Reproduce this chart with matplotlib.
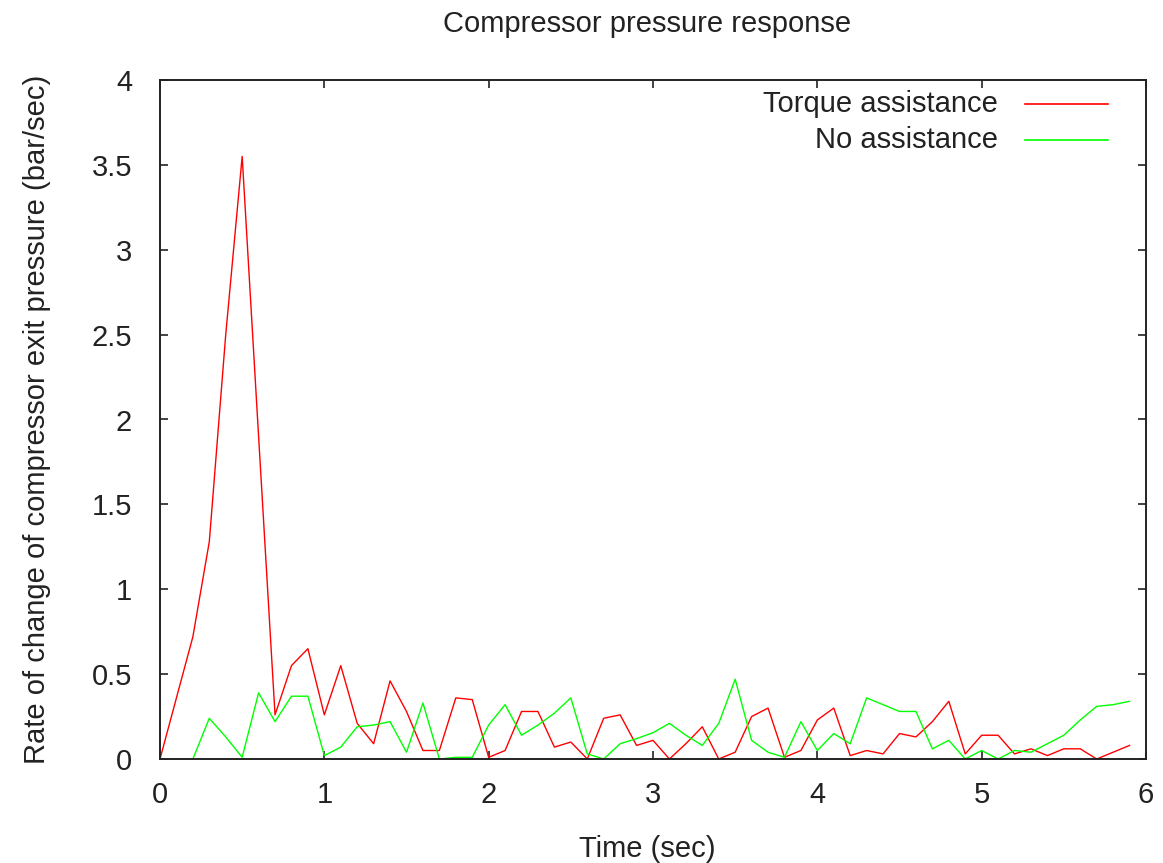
import matplotlib.pyplot as plt
from matplotlib.lines import Line2D

plt.rcParams['font.family'] = ['Liberation Sans', 'DejaVu Sans']

# sample times (sec)
time_torque = [0.0, 0.1, 0.2, 0.3, 0.4, 0.5, 0.6, 0.7, 0.8, 0.9,
               1.0, 1.1, 1.2, 1.3, 1.4, 1.5, 1.6, 1.7, 1.8, 1.9,
               2.0, 2.1, 2.2, 2.3, 2.4, 2.5, 2.6, 2.7, 2.8, 2.9,
               3.0, 3.1, 3.2, 3.3, 3.4, 3.5, 3.6, 3.7, 3.8, 3.9,
               4.0, 4.1, 4.2, 4.3, 4.4, 4.5, 4.6, 4.7, 4.8, 4.9,
               5.0, 5.1, 5.2, 5.3, 5.4, 5.5, 5.6, 5.7, 5.8, 5.9]
rate_torque = [0.0, 0.36, 0.72, 1.28, 2.5, 3.55, 1.9, 0.26, 0.55, 0.65,
               0.26, 0.55, 0.21, 0.09, 0.46, 0.28, 0.05, 0.05, 0.36, 0.35,
               0.01, 0.05, 0.28, 0.28, 0.07, 0.10, 0.0, 0.24, 0.26, 0.08,
               0.11, 0.0, 0.09, 0.19, 0.0, 0.04, 0.25, 0.30, 0.01, 0.05,
               0.23, 0.30, 0.02, 0.05, 0.03, 0.15, 0.13, 0.22, 0.34, 0.03,
               0.14, 0.14, 0.03, 0.06, 0.02, 0.06, 0.06, 0.0, 0.04, 0.08]

time_none = [0.2, 0.3, 0.4, 0.5, 0.6, 0.7, 0.8, 0.9,
             1.0, 1.1, 1.2, 1.3, 1.4, 1.5, 1.6, 1.7, 1.8, 1.9,
             2.0, 2.1, 2.2, 2.3, 2.4, 2.5, 2.6, 2.7, 2.8, 2.9,
             3.0, 3.1, 3.2, 3.3, 3.4, 3.5, 3.6, 3.7, 3.8, 3.9,
             4.0, 4.1, 4.2, 4.3, 4.4, 4.5, 4.6, 4.7, 4.8, 4.9,
             5.0, 5.1, 5.2, 5.3, 5.4, 5.5, 5.6, 5.7, 5.8, 5.9]
rate_none = [0.0, 0.24, 0.13, 0.01, 0.39, 0.22, 0.37, 0.37,
             0.02, 0.07, 0.19, 0.20, 0.22, 0.04, 0.33, 0.0, 0.01, 0.01,
             0.20, 0.32, 0.14, 0.20, 0.27, 0.36, 0.03, 0.0, 0.09, 0.12,
             0.155, 0.21, 0.14, 0.08, 0.21, 0.47, 0.11, 0.04, 0.01, 0.22,
             0.05, 0.15, 0.09, 0.36, 0.32, 0.28, 0.28, 0.06, 0.11, 0.0,
             0.05, 0.0, 0.05, 0.04, 0.09, 0.14, 0.23, 0.31, 0.32, 0.34]

xticks = [0, 1, 2, 3, 4, 5, 6]
yticks = [0, 0.5, 1, 1.5, 2, 2.5, 3, 3.5, 4]
ytick_labels = ['0', '0.5', '1', '1.5', '2', '2.5', '3', '3.5', '4']

fs = 21
txtcol = '#222222'

fig = plt.figure(figsize=(11.63, 8.63), dpi=100)
ax = fig.add_axes([160/1163, 1 - 759/863, (1146 - 160)/1163, (759 - 80)/863])

ax.plot(time_torque, rate_torque, color='#ff0000', lw=1.0)
ax.plot(time_none, rate_none, color='#00ff00', lw=1.0)

ax.set_xlim(0, 6)
ax.set_ylim(0, 4)
ax.set_xticks(xticks)
ax.set_yticks(yticks)
ax.set_yticklabels(ytick_labels)
ax.tick_params(direction='in', length=6, width=1.2, top=True, right=True,
               labelsize=fs, colors=txtcol)
ax.tick_params(axis='x', pad=16)
ax.tick_params(axis='y', pad=20)
for s in ax.spines.values():
    s.set_linewidth(1.4)
    s.set_color(txtcol)

ax.set_xlabel('Time (sec)', fontsize=fs, color=txtcol)
ax.xaxis.set_label_coords(0.494, -0.132)
ax.xaxis.label.set_va('center')
ax.set_ylabel('Rate of change of compressor exit pressure (bar/sec)',
              fontsize=fs, color=txtcol)
ax.yaxis.set_label_coords(-0.125, 0.5)
ax.yaxis.label.set_va('center')
ax.set_title('Compressor pressure response', fontsize=fs, color=txtcol,
             y=1.083, va='center', x=0.494, pad=0)

# gnuplot style key: text right aligned, sample on the right
key = [('Torque assistance', '#ff0000', 0.965), ('No assistance', '#00ff00', 0.912)]
for label, col, yy in key:
    ax.add_line(Line2D([0.877, 0.961], [yy, yy], transform=ax.transAxes,
                       color=col, lw=1.2))
    ax.text(0.85, yy, label, transform=ax.transAxes, ha='right', va='center',
            fontsize=fs, color=txtcol)

plt.savefig('out.png', dpi=100)
